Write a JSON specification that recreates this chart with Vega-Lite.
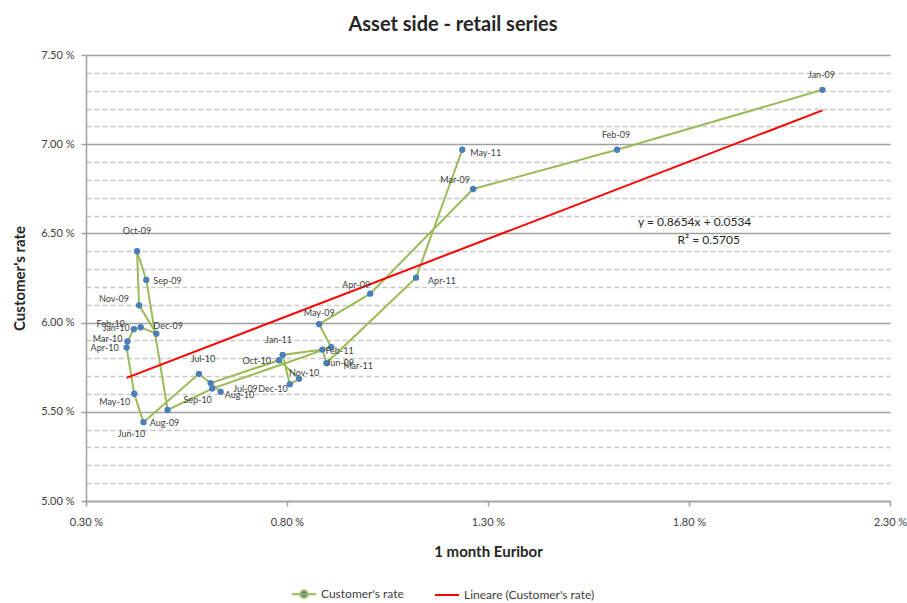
{
  "$schema": "https://vega.github.io/schema/vega-lite/v6.json",
  "width": 804,
  "height": 446,
  "autosize": {"type": "none"},
  "padding": {"left": 86, "top": 55, "right": 17, "bottom": 102},
  "background": "white",
  "title": {"text": "Asset side - retail series", "fontSize": 20, "font": "Lato", "fontWeight": "bold", "color": "#262626", "dx": -35, "offset": 14, "anchor": "middle"},
  "config": {"view": {"stroke": null}, "font": "Lato", "text": {"fontSize": 9, "color": "#404040", "baseline": "middle", "font": "Lato"}},
  "datasets": {
    "series": [
      {"month": "Jan-09", "date": "2009-01-01", "euribor": 2.132, "rate": 7.305},
      {"month": "Feb-09", "date": "2009-02-01", "euribor": 1.621, "rate": 6.969},
      {"month": "Mar-09", "date": "2009-03-01", "euribor": 1.263, "rate": 6.749},
      {"month": "Apr-09", "date": "2009-04-01", "euribor": 1.007, "rate": 6.162},
      {"month": "May-09", "date": "2009-05-01", "euribor": 0.880, "rate": 5.991},
      {"month": "Jun-09", "date": "2009-06-01", "euribor": 0.910, "rate": 5.862},
      {"month": "Jul-09", "date": "2009-07-01", "euribor": 0.614, "rate": 5.630},
      {"month": "Aug-09", "date": "2009-08-01", "euribor": 0.503, "rate": 5.510},
      {"month": "Sep-09", "date": "2009-09-01", "euribor": 0.450, "rate": 6.239},
      {"month": "Oct-09", "date": "2009-10-01", "euribor": 0.427, "rate": 6.400},
      {"month": "Nov-09", "date": "2009-11-01", "euribor": 0.432, "rate": 6.097},
      {"month": "Dec-09", "date": "2009-12-01", "euribor": 0.475, "rate": 5.938},
      {"month": "Jan-10", "date": "2010-01-01", "euribor": 0.436, "rate": 5.974},
      {"month": "Feb-10", "date": "2010-02-01", "euribor": 0.419, "rate": 5.963},
      {"month": "Mar-10", "date": "2010-03-01", "euribor": 0.403, "rate": 5.894},
      {"month": "Apr-10", "date": "2010-04-01", "euribor": 0.401, "rate": 5.860},
      {"month": "May-10", "date": "2010-05-01", "euribor": 0.420, "rate": 5.601},
      {"month": "Jun-10", "date": "2010-06-01", "euribor": 0.443, "rate": 5.442},
      {"month": "Jul-10", "date": "2010-07-01", "euribor": 0.581, "rate": 5.713},
      {"month": "Aug-10", "date": "2010-08-01", "euribor": 0.635, "rate": 5.612},
      {"month": "Sep-10", "date": "2010-09-01", "euribor": 0.610, "rate": 5.661},
      {"month": "Oct-10", "date": "2010-10-01", "euribor": 0.780, "rate": 5.789},
      {"month": "Nov-10", "date": "2010-11-01", "euribor": 0.830, "rate": 5.685},
      {"month": "Dec-10", "date": "2010-12-01", "euribor": 0.807, "rate": 5.655},
      {"month": "Jan-11", "date": "2011-01-01", "euribor": 0.789, "rate": 5.819},
      {"month": "Feb-11", "date": "2011-02-01", "euribor": 0.888, "rate": 5.849},
      {"month": "Mar-11", "date": "2011-03-01", "euribor": 0.898, "rate": 5.773},
      {"month": "Apr-11", "date": "2011-04-01", "euribor": 1.121, "rate": 6.252},
      {"month": "May-11", "date": "2011-05-01", "euribor": 1.236, "rate": 6.969}
    ],
    "eq": [
      {"label": "y = 0.8654x + 0.0534", "euribor": 1.814, "rate": 6.564},
      {"label": "R² = 0.5705", "euribor": 1.849, "rate": 6.463}
    ]
  },
  "data": {"name": "series"},
  "encoding": {
    "x": {
      "field": "euribor", "type": "quantitative",
      "scale": {"domain": [0.3, 2.3], "nice": false, "zero": false},
      "axis": {
        "values": [0.3, 0.8, 1.3, 1.8, 2.3],
        "labelExpr": "format(datum.value, '.2f') + ' %'",
        "grid": false, "domainColor": "#a0a0a0", "domainWidth": 1.5,
        "tickColor": "#a0a0a0", "tickSize": 5, "tickWidth": 1.5,
        "labelFlush": false, "labelOverlap": false, "labelPadding": 10,
        "labelFontSize": 11, "labelColor": "#404040", "labelFont": "Lato",
        "title": "1 month Euribor", "titleFontSize": 15, "titleFontWeight": "bold",
        "titleColor": "#262626", "titleFont": "Lato", "titlePadding": 17
      }
    },
    "y": {
      "field": "rate", "type": "quantitative",
      "scale": {"domain": [5.0, 7.5], "nice": false, "zero": false},
      "axis": {
        "values": [5.0, 5.1, 5.2, 5.3, 5.4, 5.5, 5.6, 5.7, 5.8, 5.9, 6.0, 6.1, 6.2, 6.3, 6.4, 6.5, 6.6, 6.7, 6.8, 6.9, 7.0, 7.1, 7.2, 7.3, 7.4, 7.5],
        "labelExpr": "abs(datum.value*2 - round(datum.value*2)) < 0.01 ? format(datum.value, '.2f') + ' %' : ''",
        "grid": true,
        "gridColor": {"condition": {"test": "abs(datum.value*2 - round(datum.value*2)) < 0.01", "value": "#a0a0a0"}, "value": "#c8c8c8"},
        "gridDash": {"condition": {"test": "abs(datum.value*2 - round(datum.value*2)) < 0.01", "value": []}, "value": [5, 3]},
        "gridWidth": 1.5,
        "tickSize": 5, "tickWidth": 1.5, "tickColor": "#a0a0a0",
        "tickOpacity": {"condition": {"test": "abs(datum.value*2 - round(datum.value*2)) < 0.01", "value": 1}, "value": 0},
        "domainColor": "#a0a0a0", "domainWidth": 1.5,
        "labelPadding": 7, "labelFontSize": 11, "labelColor": "#404040", "labelFont": "Lato", "labelOverlap": false,
        "title": "Customer's rate", "titleFontSize": 15, "titleFontWeight": "bold", "titleColor": "#262626", "titleFont": "Lato", "titlePadding": 13
      }
    }
  },
  "layer": [
    {
      "mark": {"type": "line", "strokeWidth": 2},
      "encoding": {
        "order": {"field": "date", "type": "temporal"},
        "color": {
          "datum": "Customer's rate",
          "scale": {"domain": ["Customer's rate", "Lineare (Customer's rate)"], "range": ["#9bbb59", "#ff0000"]},
          "legend": {
            "orient": "none", "legendX": 205, "legendY": 526, "direction": "horizontal", "title": null,
            "symbolSize": 576, "symbolStrokeWidth": 2, "labelFontSize": 12, "labelColor": "#404040", "labelFont": "Lato",
            "columnPadding": 27, "labelOffset": 4,
            "encode": {
              "symbols": {
                "update": {
                  "shape": {"signal": "indexof(datum.value, 'Lineare') < 0 ? 'M-1,0H1M-0.3,0A0.3,0.3 0 1,0 0.3,0A0.3,0.3 0 1,0 -0.3,0Z' : 'M-1,0H1'"},
                  "fill": {"signal": "indexof(datum.value, 'Lineare') < 0 ? '#4a7ebb' : 'transparent'"}
                }
              }
            }
          }
        }
      }
    },
    {
      "mark": {"type": "point", "filled": true, "size": 40, "color": "#4a7ebb", "opacity": 1}
    },
    {
      "transform": [{"regression": "rate", "on": "euribor", "method": "linear"}],
      "mark": {"type": "line", "strokeWidth": 2},
      "encoding": {"color": {"datum": "Lineare (Customer's rate)"}}
    },
    {"transform": [{"filter": {"field": "month", "oneOf": ["Jan-09", "Feb-09"]}}], "mark": {"type": "text", "dx": -1, "dy": -15, "align": "center"}, "encoding": {"text": {"field": "month"}}},
    {"transform": [{"filter": {"field": "month", "oneOf": ["Jan-11"]}}], "mark": {"type": "text", "dx": -4, "dy": -15, "align": "center"}, "encoding": {"text": {"field": "month"}}},
    {"transform": [{"filter": {"field": "month", "oneOf": ["Jul-10"]}}], "mark": {"type": "text", "dx": 4, "dy": -15, "align": "center"}, "encoding": {"text": {"field": "month"}}},
    {"transform": [{"filter": {"field": "month", "oneOf": ["Oct-09"]}}], "mark": {"type": "text", "dx": 0, "dy": -20, "align": "center"}, "encoding": {"text": {"field": "month"}}},
    {"transform": [{"filter": {"field": "month", "oneOf": ["Mar-09"]}}], "mark": {"type": "text", "dx": -18, "dy": -9, "align": "center"}, "encoding": {"text": {"field": "month"}}},
    {"transform": [{"filter": {"field": "month", "oneOf": ["Apr-09"]}}], "mark": {"type": "text", "dx": -14, "dy": -9, "align": "center"}, "encoding": {"text": {"field": "month"}}},
    {"transform": [{"filter": {"field": "month", "oneOf": ["May-09"]}}], "mark": {"type": "text", "dx": 0, "dy": -11, "align": "center"}, "encoding": {"text": {"field": "month"}}},
    {"transform": [{"filter": {"field": "month", "oneOf": ["Jun-09"]}}], "mark": {"type": "text", "dx": 9, "dy": 16, "align": "center"}, "encoding": {"text": {"field": "month"}}},
    {"transform": [{"filter": {"field": "month", "oneOf": ["Jul-09"]}}], "mark": {"type": "text", "dx": 21, "dy": 0, "align": "left"}, "encoding": {"text": {"field": "month"}}},
    {"transform": [{"filter": {"field": "month", "oneOf": ["Aug-09"]}}], "mark": {"type": "text", "dx": -3, "dy": 13, "align": "center"}, "encoding": {"text": {"field": "month"}}},
    {"transform": [{"filter": {"field": "month", "oneOf": ["Sep-09"]}}], "mark": {"type": "text", "dx": 7, "dy": 1, "align": "left"}, "encoding": {"text": {"field": "month"}}},
    {"transform": [{"filter": {"field": "month", "oneOf": ["Feb-11"]}}], "mark": {"type": "text", "dx": 3, "dy": 1, "align": "left"}, "encoding": {"text": {"field": "month"}}},
    {"transform": [{"filter": {"field": "month", "oneOf": ["May-11"]}}], "mark": {"type": "text", "dx": 8, "dy": 3, "align": "left"}, "encoding": {"text": {"field": "month"}}},
    {"transform": [{"filter": {"field": "month", "oneOf": ["Aug-10"]}}], "mark": {"type": "text", "dx": 4, "dy": 3, "align": "left"}, "encoding": {"text": {"field": "month"}}},
    {"transform": [{"filter": {"field": "month", "oneOf": ["Apr-11"]}}], "mark": {"type": "text", "dx": 12, "dy": 3, "align": "left"}, "encoding": {"text": {"field": "month"}}},
    {"transform": [{"filter": {"field": "month", "oneOf": ["Mar-11"]}}], "mark": {"type": "text", "dx": 17, "dy": 3, "align": "left"}, "encoding": {"text": {"field": "month"}}},
    {"transform": [{"filter": {"field": "month", "oneOf": ["Nov-09"]}}], "mark": {"type": "text", "dx": -10, "dy": -6, "align": "right"}, "encoding": {"text": {"field": "month"}}},
    {"transform": [{"filter": {"field": "month", "oneOf": ["Jan-10"]}}], "mark": {"type": "text", "dx": -11, "dy": 1, "align": "right"}, "encoding": {"text": {"field": "month"}}},
    {"transform": [{"filter": {"field": "month", "oneOf": ["Feb-10"]}}], "mark": {"type": "text", "dx": -9, "dy": -5, "align": "right"}, "encoding": {"text": {"field": "month"}}},
    {"transform": [{"filter": {"field": "month", "oneOf": ["Mar-10"]}}], "mark": {"type": "text", "dx": -5, "dy": -3, "align": "right"}, "encoding": {"text": {"field": "month"}}},
    {"transform": [{"filter": {"field": "month", "oneOf": ["Apr-10", "Oct-10"]}}], "mark": {"type": "text", "dx": -8, "dy": 0.5, "align": "right"}, "encoding": {"text": {"field": "month"}}},
    {"transform": [{"filter": {"field": "month", "oneOf": ["May-10"]}}], "mark": {"type": "text", "dx": -4, "dy": 8, "align": "right"}, "encoding": {"text": {"field": "month"}}},
    {"transform": [{"filter": {"field": "month", "oneOf": ["Dec-10"]}}], "mark": {"type": "text", "dx": -2, "dy": 5, "align": "right"}, "encoding": {"text": {"field": "month"}}},
    {"transform": [{"filter": {"field": "month", "oneOf": ["Dec-09"]}}], "mark": {"type": "text", "dx": -3, "dy": -8, "align": "left"}, "encoding": {"text": {"field": "month"}}},
    {"transform": [{"filter": {"field": "month", "oneOf": ["Jun-10"]}}], "mark": {"type": "text", "dx": -12, "dy": 12, "align": "center"}, "encoding": {"text": {"field": "month"}}},
    {"transform": [{"filter": {"field": "month", "oneOf": ["Sep-10"]}}], "mark": {"type": "text", "dx": -13, "dy": 17, "align": "center"}, "encoding": {"text": {"field": "month"}}},
    {"transform": [{"filter": {"field": "month", "oneOf": ["Nov-10"]}}], "mark": {"type": "text", "dx": 5, "dy": -6, "align": "center"}, "encoding": {"text": {"field": "month"}}},
    {
      "data": {"name": "eq"},
      "mark": {"type": "text", "fontSize": 12, "align": "center", "color": "#262626"},
      "encoding": {"text": {"field": "label"}}
    }
  ]
}
